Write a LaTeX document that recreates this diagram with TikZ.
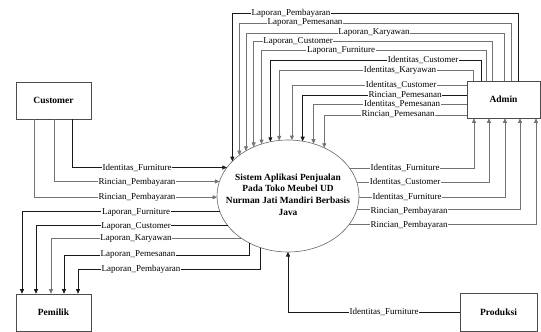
\documentclass[tikz,border=0pt]{standalone}
\usepackage{fontspec}
\setmainfont{Liberation Serif}
\usetikzlibrary{arrows.meta,shapes.geometric}
\begin{document}
\begin{tikzpicture}[x=1pt,y=-1pt,
  box/.style={draw=black!70, line width=0.6pt, minimum width=75pt, minimum height=37pt, inner sep=0pt, font=\fontsize{9.5}{11}\selectfont\bfseries},
  flow/.style={draw=black!55, line width=0.6pt, -{Triangle[length=4.5pt,width=4pt]}},
  flowd/.style={flow, draw=black!90},
  lbl/.style={fill=white, inner sep=0.6pt, font=\fontsize{9}{10}\selectfont}
]
\useasboundingbox (0,0) rectangle (541,332);

% entities
\node[box] (cust) at (53.5,100.5) {Customer};
\node[box] (pem) at (53.5,312.5) {Pemilik};
\node[box, minimum width=73pt] (admin) at (503.5,99.5) {Admin};
\node[box, minimum width=77pt, minimum height=38pt] (prod) at (498.5,312) {Produksi};

% process
\node[draw=black!60, line width=0.6pt, ellipse, minimum width=142pt, minimum height=112pt, inner sep=0pt, outer sep=0pt] (sys) at (288,196) {};
\node[align=center, font=\fontsize{9.4}{11.7}\selectfont\bfseries] (systxt) at (288,194.5)
  {Sistem Aplikasi Penjualan\\Pada Toko Meubel UD\\Nurman Jati Mandiri Berbasis\\Java};

% Admin -> system (over the top)
\draw[flowd] (admin.north -| 518,0) -- (518,13) -| (sys.148.4);
\draw[flow]  (admin.north -| 511,0) -- (511,23) -| (sys.140.4);
\draw[flow]  (admin.north -| 504,0) -- (504,33) -| (sys.133.0);
\draw[flow]  (admin.north -| 492,0) -- (492,41) -| (sys.125.7);
\draw[flow]  (admin.north -| 486,0) -- (486,50) -| (sys.117.5);
\draw[flowd] (admin.north -| 481,0) -- (481,60) -| (sys.108.4);
\draw[flow]  (admin.north -| 473,0) -- (473,70) -| (sys.99.2);
\draw[flow]  (admin.west |- 0,85)  -| (sys.86.9);
\draw[flowd] (admin.west |- 0,95)  -| (sys.75.7);
\draw[flow]  (admin.west |- 0,104) -| (sys.64.5);
\draw[flow]  (admin.west |- 0,115) -| (sys.53.3);

\node[lbl] (t1) at (291,13) {Laporan\_Pembayaran};
\node[lbl] (t2) at (305,23) {Laporan\_Pemesanan};
\node[lbl] (t3) at (374,33) {Laporan\_Karyawan};
\node[lbl] (t4) at (298,41) {Laporan\_Customer};
\node[lbl] (t5) at (341,50) {Laporan\_Furniture};
\node[lbl] (t6) at (423,60) {Identitas\_Customer};
\node[lbl] (t7) at (400,70) {Identitas\_Karyawan};
\node[lbl] (t8) at (401,85) {Identitas\_Customer};
\node[lbl] (t9) at (405,95) {Rincian\_Pemesanan};
\node[lbl] (t10) at (402,104) {Identitas\_Pemesanan};
\node[lbl] (t11) at (398,114) {Rincian\_Pemesanan};

% Customer -> system
\draw[flowd] (cust.south -| 72,0) |- (sys.155.5);
\draw[flow]  (cust.south -| 54,0) |- (sys.168.5);
\draw[flow]  (cust.south -| 34,0) |- (sys.181);
\node[lbl] (c1) at (137,168) {Identitas\_Furniture};
\node[lbl] (c2) at (137,182) {Rincian\_Pembayaran};
\node[lbl] (c3) at (137,197) {Rincian\_Pembayaran};

% system -> Pemilik
\draw[flowd] (sys.193.2) -| (pem.north -| 22,0);
\draw[flowd] (sys.206.6) -| (pem.north -| 36,0);
\draw[flow]  (sys.223.4) -| (pem.north -| 51,0);
\draw[flowd] (sys.231.2) |- (64,255) -- (pem.north -| 64,0);
\draw[flowd] (sys.242.5) |- (78,269) -- (pem.north -| 78,0);
\node[lbl] (p1) at (136,212) {Laporan\_Furniture};
\node[lbl] (p2) at (136,226) {Laporan\_Customer};
\node[lbl] (p3) at (136,239) {Laporan\_Karyawan};
\node[lbl] (p4) at (138,255) {Laporan\_Pemesanan};
\node[lbl] (p5) at (141,269) {Laporan\_Pembayaran};

% system -> Admin (bottom)
\draw[flow] (sys.24.5)  -| (admin.south -| 474,0);
\draw[flow] (sys.11.5)  -| (admin.south -| 489,0);
\draw[flow] (sys.359.2) -| (admin.south -| 505,0);
\draw[flow] (sys.-11.5) -| (admin.south -| 520,0);
\draw[flow] (sys.-25.5) -| (admin.south -| 536,0);
\node[lbl] (a1) at (405,168) {Identitas\_Furniture};
\node[lbl] (a2) at (405,182) {Identitas\_Customer};
\node[lbl] (a3) at (407,197) {Identitas\_Furniture};
\node[lbl] (a4) at (409,211) {Rincian\_Pembayaran};
\node[lbl] (a5) at (409,225) {Rincian\_Pembayaran};

% Produksi -> system
\draw[flowd] (prod.west) -| (sys.south);
\node[lbl] (r1) at (384,312) {Identitas\_Furniture};
\end{tikzpicture}
\end{document}
